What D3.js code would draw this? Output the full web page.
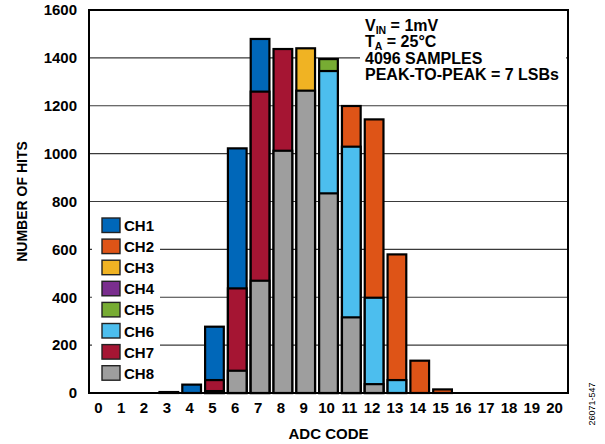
<!DOCTYPE html>
<html><head><meta charset="utf-8">
<script src="https://cdn.jsdelivr.net/npm/d3@7"></script>
<style>body{margin:0;background:#fff}svg{display:block}text{font-family:"Liberation Sans",Arial,sans-serif;font-weight:bold;fill:#000}</style>
</head><body><svg id="c" width="605" height="444"></svg>
<script>
const codes = d3.range(0, 21);
const yTicks = [0, 200, 400, 600, 800, 1000, 1200, 1400, 1600];
const channels = ["CH1","CH2","CH3","CH4","CH5","CH6","CH7","CH8"];
const colors = ["#0067B9","#DE5417","#F0B323","#7A2E8E","#77AC33","#4CBEEE","#A51533","#9E9E9E"];
//            0 1 2 3  4   5    6    7    8    9    10   11   12   13  14  15 16 17 18 19 20
const ch1 = [0,0,0,4, 35, 277,1022,1479,0,   0,   0,   0,   0,   0,  0,  0, 0,0,0,0,0];
const ch2 = [0,0,0,0, 0,  0,   0,   0,   0,   0,   0,   1199,1143,579,135,15,0,0,0,0,0];
const ch3 = [0,0,0,0, 0,  0,   0,   0,   0,   1440,0,   0,   0,   0,  0,  0, 0,0,0,0,0];
const ch4 = [0,0,0,0, 0,  0,   0,   0,   0,   0,   0,   0,   0,   0,  0,  0, 0,0,0,0,0];
const ch5 = [0,0,0,0, 0,  0,   0,   0,   0,   0,   1395,0,   0,   0,  0,  0, 0,0,0,0,0];
const ch6 = [0,0,0,0, 0,  0,   0,   0,   0,   0,   1345,1029,398, 54, 0,  0, 0,0,0,0,0];
const ch7 = [0,0,0,0, 0,  54,  437, 1259,1437,0,   0,   0,   0,   0,  0,  0, 0,0,0,0,0];
const ch8 = [0,0,0,0, 0,  8,   93,  469, 1012,1263,834, 316, 37,  0,  0,  0, 0,0,0,0,0];
const series = [ch1,ch2,ch3,ch4,ch5,ch6,ch7,ch8];

const svg = d3.select("#c");
const L = 89, R = 568, T = 10, B = 393;
const x = d3.scaleBand().domain(codes).range([L, R]).paddingInner(0.18).paddingOuter(0.09);
const y = d3.scaleLinear().domain([0, 1600]).range([B, T]);

// gridlines
svg.append("g").selectAll("line").data(yTicks.filter(v => v > 0 && v < 1600)).join("line")
  .attr("x1", L).attr("x2", R).attr("y1", d => y(d)).attr("y2", d => y(d))
  .attr("stroke", "#3a3a3a").attr("stroke-width", 1.2);

// annotation box
svg.append("rect").attr("x", 360).attr("y", 14).attr("width", 206).attr("height", 70).attr("fill", "#fff");
// legend box
svg.append("rect").attr("x", 92).attr("y", 210).attr("width", 68).attr("height", 176).attr("fill", "#fff");

// bars
series.forEach((s, i) => {
  svg.append("g").selectAll("rect").data(codes.filter(c => s[c] > 0)).join("rect")
    .attr("x", c => x(c)).attr("width", x.bandwidth())
    .attr("y", c => y(s[c])).attr("height", c => B - y(s[c]))
    .attr("fill", colors[i]).attr("stroke", "#000").attr("stroke-width", 2.2);
});

// frame
svg.append("rect").attr("x", L).attr("y", T).attr("width", R - L).attr("height", B - T)
  .attr("fill", "none").attr("stroke", "#000").attr("stroke-width", 2);

// y axis labels
const yAxis = d3.axisLeft(y).tickValues(yTicks).tickFormat(d3.format("d")).tickSize(0).tickPadding(12);
const gy = svg.append("g").attr("transform", `translate(${L},0)`).call(yAxis);
gy.select(".domain").remove();
gy.selectAll("text").attr("font-size", 15).attr("font-family", null).style("font-family", '"Liberation Sans",Arial,sans-serif').style("font-weight", "bold");

// x axis labels
const xAxis = d3.axisBottom(x).tickSize(0).tickPadding(9);
const gx = svg.append("g").attr("transform", `translate(-2,${B})`).call(xAxis);
gx.select(".domain").remove();
gx.selectAll("text").attr("font-size", 15).attr("font-family", null).style("font-family", '"Liberation Sans",Arial,sans-serif').style("font-weight", "bold");

// axis titles
svg.append("text").attr("x", (L + R) / 2).attr("y", 439).attr("text-anchor", "middle").attr("font-size", 15).text("ADC CODE");
svg.append("text").attr("transform", `translate(27,${(T + B) / 2}) rotate(-90)`).attr("text-anchor", "middle").attr("font-size", 14).text("NUMBER OF HITS");

// legend
const lg = svg.append("g");
channels.forEach((c, i) => {
  const yy = 218 + i * 21.1;
  lg.append("rect").attr("x", 102).attr("y", yy).attr("width", 18).attr("height", 14.5)
    .attr("fill", colors[i]).attr("stroke", "#222").attr("stroke-width", 1.4);
  lg.append("text").attr("x", 124).attr("y", yy + 13).attr("font-size", 15).text(c);
});

// annotation
const ax = 365;
const t1 = svg.append("text").attr("x", ax).attr("y", 31).attr("font-size", 16);
t1.append("tspan").text("V");
t1.append("tspan").attr("font-size", 10.5).attr("dy", 2.5).text("IN");
t1.append("tspan").attr("dy", -2.5).text(" = 1mV");
const t2 = svg.append("text").attr("x", ax).attr("y", 47).attr("font-size", 16);
t2.append("tspan").text("T");
t2.append("tspan").attr("font-size", 10.5).attr("dy", 2.5).text("A");
t2.append("tspan").attr("dy", -2.5).text(" = 25°C");
svg.append("text").attr("x", ax).attr("y", 64).attr("font-size", 16).text("4096 SAMPLES");
svg.append("text").attr("x", ax).attr("y", 80).attr("font-size", 16).text("PEAK-TO-PEAK = 7 LSBs");

// figure id
svg.append("text").attr("transform", "translate(595,404) rotate(-90)").attr("text-anchor", "middle")
  .attr("font-size", 9).style("font-weight", "normal").text("26071-547");
</script></body></html>
